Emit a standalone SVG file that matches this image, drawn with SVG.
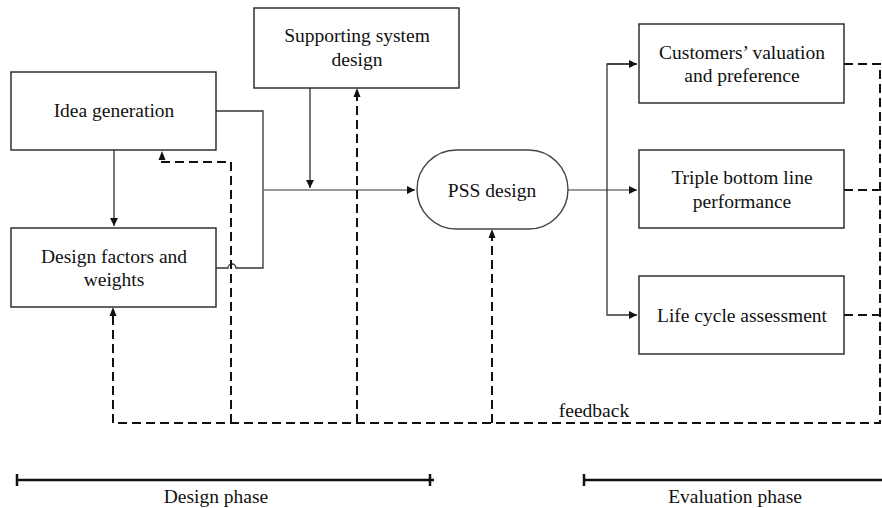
<svg xmlns="http://www.w3.org/2000/svg" width="882" height="508" viewBox="0 0 882 508">
<defs>
<marker id="ah" viewBox="0 0 10 10" refX="10" refY="5" markerWidth="9" markerHeight="8" markerUnits="userSpaceOnUse" orient="auto">
<path d="M0,0 L10,5 L0,10 Z" fill="#111"/>
</marker>
<style>
.box{fill:#fff;stroke:#222;stroke-width:1.4}
.t{font-family:"Liberation Serif","Times New Roman",serif;font-size:19.5px;fill:#111;text-anchor:middle;dominant-baseline:central}
.ln{fill:none;stroke:#333;stroke-width:1.3}
.gl{fill:none;stroke:#777;stroke-width:1.3}
.ds{fill:none;stroke:#111;stroke-width:2;stroke-dasharray:9,5}
.ph{fill:none;stroke:#111;stroke-width:2.5}
</style>
</defs>
<rect width="882" height="508" fill="#fff"/>
<g id="connectors">
<path class="ln" d="M114,150 V226" marker-end="url(#ah)"/>
<path class="ln" d="M216,111 H263 V268 H236 A4,4 0 0 0 228,268 H216"/>
<path class="gl" d="M263,190 H415" marker-end="url(#ah)"/>
<path class="ln" d="M310,88 V188" marker-end="url(#ah)"/>
<path class="gl" d="M568,190 H637" marker-end="url(#ah)"/>
<path class="ln" d="M637,64 H607 V315 H637" marker-end="url(#ah)"/>
<path class="ln" d="M607,64 H637" marker-end="url(#ah)"/>
<path class="ds" d="M844,64 H880 V423 H113 V310"/>
<path class="ds" d="M844,190 H880"/>
<path class="ds" d="M844,315 H880"/>
<path class="ds" d="M231,423 V162 H162 V154"/>
<path class="ds" d="M357,423 V92"/>
<path class="ds" d="M492,423 V233"/>
<path d="M113,307 L109.5,316 L116.5,316 Z" fill="#111"/>
<path d="M162,151 L158.5,160 L165.5,160 Z" fill="#111"/>
<path d="M357,88 L353.5,97 L360.5,97 Z" fill="#111"/>
<path d="M492,229 L488.5,238 L495.5,238 Z" fill="#111"/>
</g>
<g id="idea">
<rect class="box" x="11" y="72" width="205" height="78"/>
<text class="t" x="114" y="110">Idea generation</text>
</g>
<g id="factors">
<rect class="box" x="11" y="228" width="205" height="79"/>
<text class="t" x="114" y="256">Design factors and</text>
<text class="t" x="114" y="279">weights</text>
</g>
<g id="supporting">
<rect class="box" x="254" y="8" width="205" height="80"/>
<text class="t" x="357" y="35">Supporting system</text>
<text class="t" x="357" y="59">design</text>
</g>
<g id="pss">
<rect class="box" x="417" y="150" width="151" height="79" rx="39.5" ry="39.5" style="stroke:#444"/>
<text class="t" x="492" y="190">PSS design</text>
</g>
<g id="customers">
<rect class="box" x="639" y="24" width="205" height="79"/>
<text class="t" x="742" y="52">Customers’ valuation</text>
<text class="t" x="742" y="75">and preference</text>
</g>
<g id="triple">
<rect class="box" x="639" y="150" width="205" height="78"/>
<text class="t" x="742" y="177">Triple bottom line</text>
<text class="t" x="742" y="201">performance</text>
</g>
<g id="lca">
<rect class="box" x="639" y="276" width="205" height="78"/>
<text class="t" x="742" y="315">Life cycle assessment</text>
</g>
<g id="labels">
<text class="t" x="594" y="410">feedback</text>
<path class="ph" d="M17,480 H434 M17,474 V486 M430,474 V486"/>
<path class="ph" d="M584,480 H882 M584,474 V486"/>
<text class="t" x="216" y="496">Design phase</text>
<text class="t" x="735" y="496">Evaluation phase</text>
</g>
</svg>
